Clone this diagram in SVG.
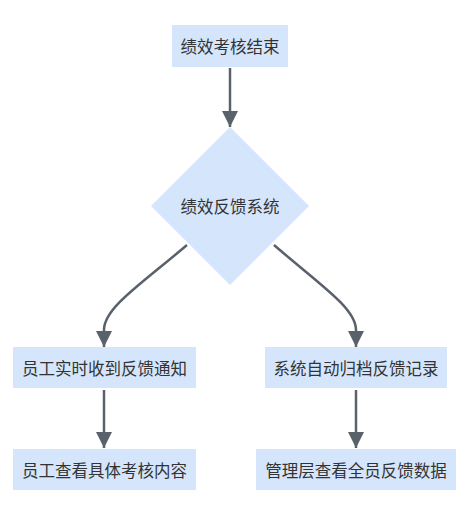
<svg xmlns="http://www.w3.org/2000/svg" width="474" height="520" viewBox="0 0 474 520">
<defs>
<style>
.node{fill:#d5e6fc;stroke:none}
.lbl{font-family:"Noto Sans CJK SC","Liberation Sans",sans-serif;font-size:16.5px;fill:#333;text-anchor:middle;dominant-baseline:central}
.edge{fill:none;stroke:#59616b;stroke-width:2.5}
</style>
<marker id="arr" viewBox="0 0 16 16" refX="16" refY="8" markerWidth="16" markerHeight="16" markerUnits="userSpaceOnUse" orient="auto">
<path d="M0,0 L16,8 L0,16 Z" fill="#59616b"/>
</marker>
</defs>
<rect width="474" height="520" fill="#fff"/>
<g id="connectors">
<path class="edge" d="M230,68 L230,127" marker-end="url(#arr)"/>
<path class="edge" d="M187,245 C140,285 104,308 104,330 L104,347" marker-end="url(#arr)"/>
<path class="edge" d="M274,245 C320,285 356,308 356,330 L356,347" marker-end="url(#arr)"/>
<path class="edge" d="M104,390 L104,448" marker-end="url(#arr)"/>
<path class="edge" d="M356,390 L356,448" marker-end="url(#arr)"/>
</g>
<g id="n1"><rect class="node" x="172" y="25" width="116" height="42"/><text class="lbl" x="230" y="46">绩效考核结束</text></g>
<g id="n2"><polygon class="node" points="230,127 309,206 230,285 151,206"/><text class="lbl" x="230" y="206">绩效反馈系统</text></g>
<g id="n3"><rect class="node" x="13" y="347" width="183" height="41"/><text class="lbl" x="104.5" y="367.5">员工实时收到反馈通知</text></g>
<g id="n4"><rect class="node" x="265" y="347" width="182" height="41"/><text class="lbl" x="356" y="367.5">系统自动归档反馈记录</text></g>
<g id="n5"><rect class="node" x="13" y="449" width="183" height="41"/><text class="lbl" x="104.5" y="469.5">员工查看具体考核内容</text></g>
<g id="n6"><rect class="node" x="256" y="449" width="200" height="41"/><text class="lbl" x="356" y="469.5">管理层查看全员反馈数据</text></g>
</svg>
